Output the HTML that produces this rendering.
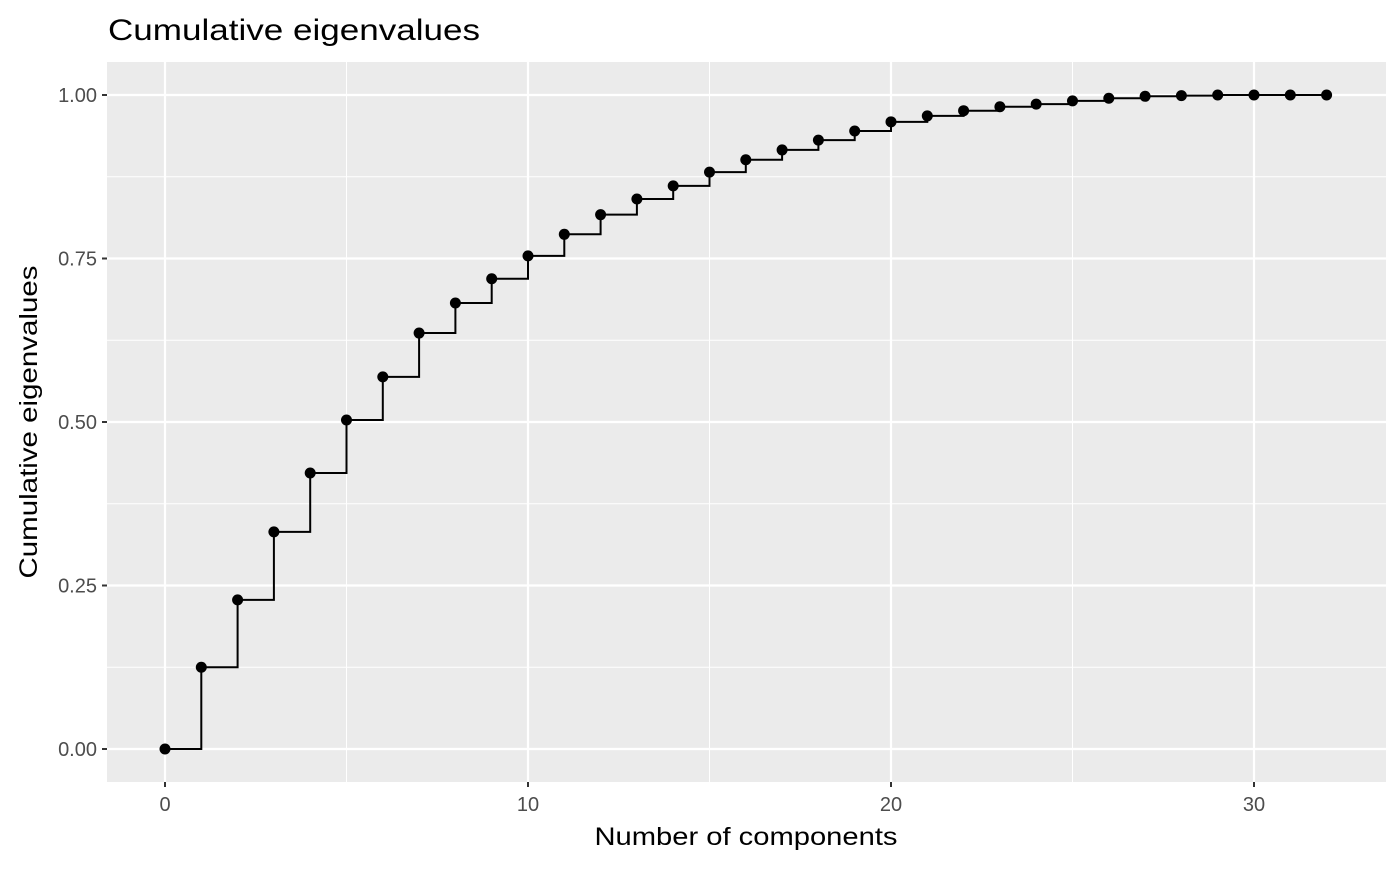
<!DOCTYPE html>
<html><head><meta charset="utf-8"><style>
body{margin:0;background:#fff;font-family:"Liberation Sans",Arial,sans-serif}
svg text{font-family:"Liberation Sans",Arial,sans-serif}
</style></head><body>
<svg id="chart" width="1400" height="866" xmlns="http://www.w3.org/2000/svg">
<text x="108" y="40" font-size="30" textLength="372" lengthAdjust="spacingAndGlyphs" fill="#000">Cumulative eigenvalues</text>
<rect x="107" y="62" width="1279" height="720" fill="#ebebeb"/>
<g id="grid"></g><g id="axes"></g><g id="marks"></g>
<text x="746" y="845" font-size="25" textLength="303" lengthAdjust="spacingAndGlyphs" text-anchor="middle" fill="#000">Number of components</text>
<text transform="translate(37,422) rotate(-90)" font-size="25" textLength="313" lengthAdjust="spacingAndGlyphs" text-anchor="middle" fill="#000">Cumulative eigenvalues</text>
</svg>
<script>
const components=[0,1,2,3,4,5,6,7,8,9,10,11,12,13,14,15,16,17,18,19,20,21,22,23,24,25,26,27,28,29,30,31,32];
const cumValues=[0,0.125,0.228,0.332,0.422,0.503,0.569,0.636,0.682,0.719,0.754,0.787,0.817,0.841,0.861,0.882,0.901,0.916,0.931,0.945,0.959,0.968,0.976,0.982,0.986,0.991,0.995,0.998,0.999,1.0,1.0,1.0,1.0];
const xTicks=[0,10,20,30];
const xMinor=[5,15,25];
const yTicks=[0,0.25,0.5,0.75,1.0];
const yTickLabels=["0.00","0.25","0.50","0.75","1.00"];
const yMinor=[0.125,0.375,0.625,0.875];
const NS="http://www.w3.org/2000/svg";
const X=v=>165+v*36.3;
const Y=v=>749-v*654;
function mk(tag,attrs,parent){const e=document.createElementNS(NS,tag);for(const k in attrs)e.setAttribute(k,attrs[k]);document.getElementById(parent).appendChild(e);return e;}
xMinor.forEach(v=>{const l=mk('line',{x1:X(v),x2:X(v),y1:62,y2:782,stroke:'#fff','stroke-width':1},'grid');

});
yMinor.forEach(v=>{const l=mk('line',{x1:107,x2:1386,y1:Y(v),y2:Y(v),stroke:'#fff','stroke-width':1},'grid');

});
xTicks.forEach(v=>{const l=mk('line',{x1:X(v),x2:X(v),y1:62,y2:782,stroke:'#fff','stroke-width':2.2},'grid');


const t=mk('line',{x1:X(v),x2:X(v),y1:782,y2:787,stroke:'#333','stroke-width':2},'axes');


const tx=mk('text',{x:X(v),y:811,'font-size':20,fill:'#4d4d4d','text-anchor':'middle'},'axes');tx.textContent=v;

});
yTicks.forEach((v,i)=>{const l=mk('line',{x1:107,x2:1386,y1:Y(v),y2:Y(v),stroke:'#fff','stroke-width':2.2},'grid');


const t=mk('line',{x1:102,x2:107,y1:Y(v),y2:Y(v),stroke:'#333','stroke-width':2},'axes');


const tx=mk('text',{x:97,y:Y(v)+7,'font-size':20,fill:'#4d4d4d','text-anchor':'end'},'axes');tx.textContent=yTickLabels[i];

});
let d='M'+X(components[0])+','+Y(cumValues[0]);
for(let i=1;i<components.length;i++){d+=' H'+X(components[i])+' V'+Y(cumValues[i]);}
const p=mk('path',{d:d,fill:'none',stroke:'#000','stroke-width':2},'marks');


components.forEach((c,i)=>{const pt=mk('circle',{cx:X(c),cy:Y(cumValues[i]),r:5.5,fill:'#000'},'marks');

});
</script>
</body></html>
